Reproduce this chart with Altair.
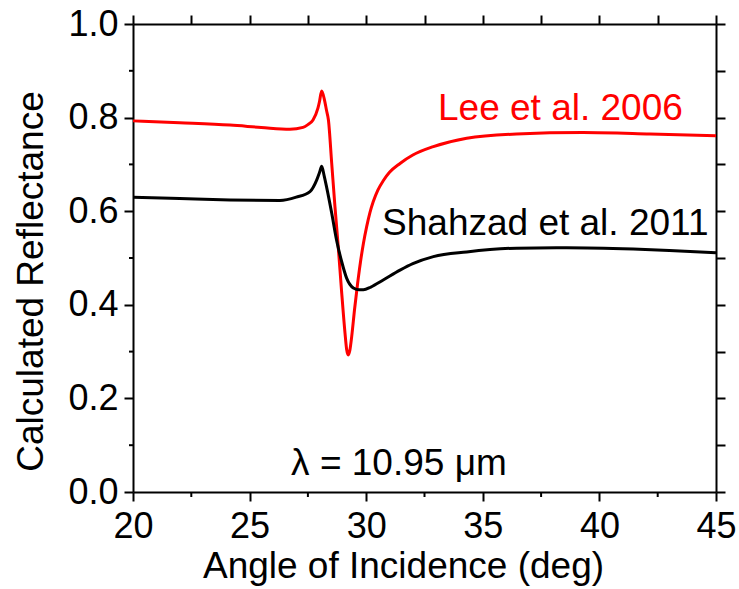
import altair as alt
import pandas as pd

# ---- data ----
angle_lee = [20, 22, 24.16, 25.5, 26.73, 27.29, 27.5, 27.72, 27.93, 28.0, 28.09, 28.2, 28.3,
             28.38, 28.52, 28.66, 28.80, 28.95, 29.09, 29.16, 29.23, 29.30, 29.38, 29.5, 29.63,
             29.75, 29.88, 30.02, 30.16, 30.3, 30.5, 30.73, 31.0, 31.45, 32.0, 32.88, 34.31,
             36.45, 39.3, 42.17, 45]
refl_lee = [0.793, 0.789, 0.784, 0.779, 0.775, 0.779, 0.785, 0.795, 0.82, 0.835, 0.857, 0.84, 0.815,
            0.795, 0.703, 0.61, 0.525, 0.425, 0.340, 0.305, 0.293, 0.303, 0.333, 0.39, 0.445,
            0.49, 0.531, 0.567, 0.597, 0.620, 0.645, 0.665, 0.683, 0.702, 0.72, 0.738, 0.756,
            0.765, 0.768, 0.765, 0.761]

angle_sh = [20, 22, 24.16, 26.3, 27.0, 27.59, 27.88, 28.0, 28.09, 28.2, 28.30, 28.52, 28.73,
            28.95, 29.16, 29.45, 29.7, 29.88, 30.2, 30.73, 31.45, 32.0, 32.88, 34.31, 36.45,
            38.6, 41.45, 43.0, 45]
refl_sh = [0.630, 0.627, 0.624, 0.623, 0.630, 0.642, 0.667, 0.683, 0.696, 0.675, 0.652, 0.596, 0.538,
           0.492, 0.457, 0.436, 0.432, 0.432, 0.438, 0.453, 0.474, 0.488, 0.503, 0.513, 0.521,
           0.522, 0.519, 0.516, 0.511]

series_names = ["Lee et al. 2006", "Shahzad et al. 2011"]
series_colors = ["#ff0000", "#000000"]

x_major = [20, 25, 30, 35, 40, 45]
x_minor = [22.5, 27.5, 32.5, 37.5, 42.5]
x_all = [20, 22.5, 25, 27.5, 30, 32.5, 35, 37.5, 40, 42.5, 45]
y_major = [0.0, 0.2, 0.4, 0.6, 0.8, 1.0]
y_minor = [0.1, 0.3, 0.5, 0.7, 0.9]
y_all = [0.0, 0.1, 0.2, 0.3, 0.4, 0.5, 0.6, 0.7, 0.8, 0.9, 1.0]

label_text = ["Lee et al. 2006", "Shahzad et al. 2011", "λ = 10.95 μm"]
label_x = [33.08, 30.68, 26.78]
label_y = [0.795, 0.549, 0.036]
label_color = ["#ff0000", "#000000", "#000000"]

# ---- tables ----
df_lines = pd.concat([
    pd.DataFrame({"angle": angle_lee, "refl": refl_lee, "series": series_names[0], "order": range(len(angle_lee))}),
    pd.DataFrame({"angle": angle_sh, "refl": refl_sh, "series": series_names[1], "order": range(len(angle_sh))}),
])
df_xminor = pd.DataFrame({"v": x_minor})
df_yminor = pd.DataFrame({"v": y_minor})
df_text = pd.DataFrame({"t": label_text, "x": label_x, "y": label_y, "c": label_color})

W, H = 583, 468
FONT = "Liberation Sans"

xscale = alt.Scale(domain=[20, 45], nice=False, zero=False)
yscale = alt.Scale(domain=[0, 1], nice=False, zero=False)

lines = alt.Chart(df_lines).mark_line(strokeWidth=3, interpolate="monotone").encode(
    x=alt.X("angle:Q", scale=xscale,
            axis=alt.Axis(orient="bottom", values=x_major, format="d", tickSize=9, labelPadding=8,
                          labelFlush=False, labelOverlap=False,
                          title="Angle of Incidence (deg)", titleX=270, titleY=85,
                          titleBaseline="alphabetic", titleAlign="center")),
    y=alt.Y("refl:Q", scale=yscale,
            axis=alt.Axis(orient="left", values=y_major, format=".1f", tickSize=9, labelPadding=6,
                          labelFlush=False, labelOverlap=False,
                          title="Calculated Reflectance", titleX=-91, titleY=257, titleAngle=270,
                          titleBaseline="alphabetic", titleAlign="center")),
    color=alt.Color("series:N", scale=alt.Scale(domain=series_names, range=series_colors), legend=None),
    order="order:Q",
)

frame = alt.Chart(df_lines).mark_line(opacity=0).encode(
    x=alt.X("angle:Q", scale=xscale,
            axis=alt.Axis(orient="top", values=x_all, tickSize=9, labels=False, title=None)),
    y=alt.Y("refl:Q", scale=yscale,
            axis=alt.Axis(orient="right", values=y_all, tickSize=9, labels=False, title=None)),
    detail="series:N",
)

minor_x = alt.Chart(df_xminor).mark_rule(color="black", strokeWidth=2).encode(
    x=alt.X("v:Q", scale=xscale, axis=None),
    y=alt.value(H), y2=alt.value(H + 5),
)
minor_y = alt.Chart(df_yminor).mark_rule(color="black", strokeWidth=2).encode(
    y=alt.Y("v:Q", scale=yscale, axis=None),
    x=alt.value(-4), x2=alt.value(0),
)

texts = alt.Chart(df_text).mark_text(align="left", baseline="alphabetic", font=FONT, fontSize=37).encode(
    x=alt.X("x:Q", scale=xscale, axis=None),
    y=alt.Y("y:Q", scale=yscale, axis=None),
    text="t:N",
    color=alt.Color("c:N", scale=None),
)

chart = alt.layer(lines, frame, minor_x, minor_y, texts).resolve_axis(
    x="independent", y="independent"
).properties(
    width=W, height=H,
    autosize=alt.AutoSizeParams(type="none"),
    padding={"left": 133, "top": 24, "right": 23, "bottom": 97},
    background="white",
).configure_view(stroke=None).configure_axis(
    grid=False,
    domainColor="black", domainWidth=2,
    tickColor="black", tickWidth=2,
    labelFont=FONT, labelFontSize=36, labelColor="black",
    titleFont=FONT, titleFontSize=37, titleColor="black", titleFontWeight="normal",
)

chart.save("out.html", embed_options={"renderer": "svg", "actions": False})
